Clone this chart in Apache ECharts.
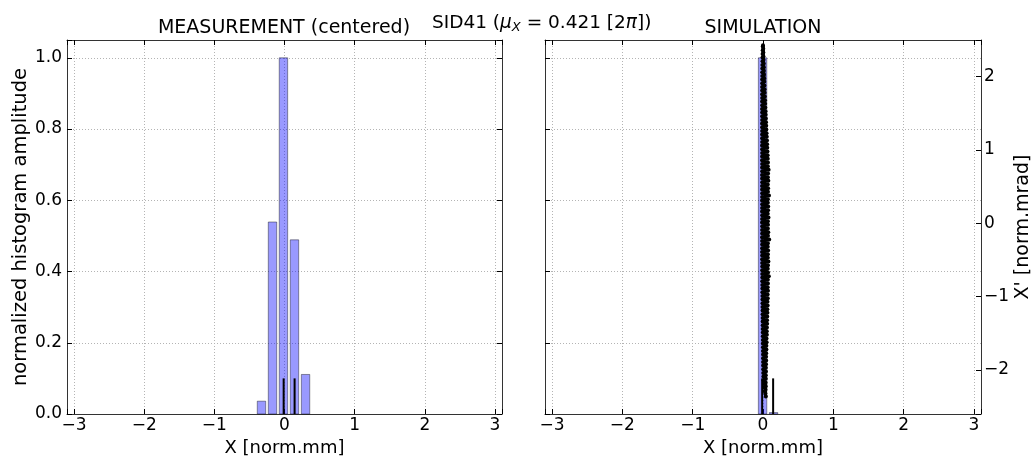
<!DOCTYPE html>
<html>
<head>
<meta charset="utf-8">
<script src="https://cdn.jsdelivr.net/npm/echarts@6/dist/echarts.min.js"></script>
<style>
  html, body { margin: 0; padding: 0; background: #fff; }
  #chart { width: 1032px; height: 459px; }
</style>
</head>
<body>
<div id="chart"></div>
<script>
// Measured beam profile: histogram bin centres [norm.mm] and normalised amplitudes
const measBinCenters = [-0.328, -0.171, -0.015, 0.142, 0.300];
const measBinHeights = [0.036, 0.539, 1.0, 0.489, 0.111];

// Simulated beam profile histogram
const simBinCenters = [-0.006, 0.150];
const simBinHeights = [1.0, 0.004];

// Reference markers drawn in both panels (position, height on the histogram scale)
const markerPositions = [-0.012, 0.144];
const markerHeights = [0.1, 0.1];

// Simulated phase space: X [norm.mm] and X' [norm.mrad], top to bottom
const simX = [
  0.000, -0.003, 0.004, -0.004, 0.005, -0.006, 0.006, -0.007, 0.008, -0.007,
  0.010, -0.009, 0.011, -0.010, 0.012, -0.011, 0.014, -0.011, 0.016, -0.012,
  0.018, -0.012, 0.020, -0.013, 0.022, -0.012, 0.024, -0.013, 0.026, -0.012,
  0.029, -0.013, 0.031, -0.012, 0.033, -0.014, 0.036, -0.012, 0.038, -0.013,
  0.041, -0.012, 0.043, -0.014, 0.046, -0.013, 0.048, -0.012, 0.051, -0.013,
  0.054, -0.013, 0.057, -0.012, 0.059, -0.014, 0.061, -0.013, 0.064, -0.012,
  0.066, -0.013, 0.068, -0.014, 0.071, -0.012, 0.069, -0.013, 0.080, -0.012,
  0.072, -0.014, 0.070, -0.013, 0.076, -0.012, 0.068, -0.014, 0.073, -0.013,
  0.071, -0.012, 0.085, -0.013, 0.070, -0.014, 0.069, -0.012, 0.074, -0.013,
  0.072, -0.014, 0.068, -0.012, 0.078, -0.013, 0.070, -0.014, 0.071, -0.012,
  0.069, -0.013, 0.075, -0.012, 0.071, -0.014, 0.088, -0.013, 0.070, -0.012,
  0.068, -0.013, 0.073, -0.014, 0.070, -0.012, 0.069, -0.013, 0.077, -0.012,
  0.071, -0.011, 0.068, -0.012, 0.072, -0.011, 0.083, -0.010, 0.069, -0.011,
  0.070, -0.010, 0.067, -0.009, 0.071, -0.009, 0.066, -0.008, 0.068, -0.008,
  0.064, -0.007, 0.066, -0.007, 0.062, -0.006, 0.063, -0.006, 0.060, -0.005,
  0.058, -0.005, 0.059, -0.004, 0.056, -0.004, 0.054, -0.003, 0.055, -0.003,
  0.050, -0.002, 0.052, -0.002, 0.048, -0.001, 0.049, -0.001, 0.046, 0.000,
  0.044, 0.000, 0.045, 0.001, 0.043, 0.001, 0.041, 0.002, 0.042, 0.003,
  0.039, 0.005, 0.040, 0.008, 0.037, 0.012, 0.038, 0.017, 0.036, 0.024,
  0.034, 0.040
];
const simXp = [
  2.43, 2.41, 2.38, 2.36, 2.33, 2.31, 2.28, 2.26, 2.23, 2.21,
  2.18, 2.16, 2.13, 2.11, 2.08, 2.06, 2.03, 2.01, 1.98, 1.96,
  1.93, 1.91, 1.88, 1.86, 1.83, 1.81, 1.78, 1.76, 1.73, 1.71,
  1.68, 1.66, 1.63, 1.61, 1.58, 1.56, 1.53, 1.51, 1.48, 1.46,
  1.43, 1.41, 1.38, 1.36, 1.33, 1.31, 1.28, 1.26, 1.23, 1.21,
  1.18, 1.16, 1.13, 1.11, 1.08, 1.06, 1.03, 1.01, 0.98, 0.96,
  0.93, 0.91, 0.88, 0.86, 0.83, 0.81, 0.78, 0.76, 0.73, 0.71,
  0.68, 0.66, 0.63, 0.61, 0.58, 0.56, 0.53, 0.51, 0.48, 0.46,
  0.43, 0.41, 0.38, 0.36, 0.33, 0.31, 0.28, 0.26, 0.23, 0.21,
  0.18, 0.16, 0.13, 0.11, 0.08, 0.06, 0.03, 0.01, -0.02, -0.04,
  -0.07, -0.09, -0.12, -0.14, -0.17, -0.19, -0.22, -0.24, -0.27, -0.29,
  -0.32, -0.34, -0.37, -0.39, -0.42, -0.44, -0.47, -0.49, -0.52, -0.54,
  -0.57, -0.59, -0.62, -0.64, -0.67, -0.69, -0.72, -0.74, -0.77, -0.79,
  -0.82, -0.84, -0.87, -0.89, -0.92, -0.94, -0.97, -0.99, -1.02, -1.04,
  -1.07, -1.09, -1.12, -1.14, -1.17, -1.19, -1.22, -1.24, -1.27, -1.29,
  -1.32, -1.34, -1.37, -1.39, -1.42, -1.44, -1.47, -1.49, -1.52, -1.54,
  -1.57, -1.59, -1.62, -1.64, -1.67, -1.69, -1.72, -1.74, -1.77, -1.79,
  -1.82, -1.84, -1.87, -1.89, -1.92, -1.94, -1.97, -1.99, -2.02, -2.04,
  -2.07, -2.09, -2.12, -2.14, -2.17, -2.19, -2.22, -2.24, -2.27, -2.29,
  -2.32, -2.36
];

// Tick labels
const xTicks = [-3, -2, -1, 0, 1, 2, 3];
const histTicks = [0, 0.2, 0.4, 0.6, 0.8, 1.0];
const xpTicks = [-2, -1, 0, 1, 2];

const BIN_WIDTH = 0.12;
const FONT = 'DejaVu Sans';

const minus = s => String(s).replace('-', '\u2212');
const hasTick = (list, v) => list.some(t => Math.abs(t - v) < 1e-6);
const fmtX = v => hasTick(xTicks, v) ? minus(Math.round(v)) : '';
const fmtHist = v => hasTick(histTicks, v) ? v.toFixed(1) : '';
const fmtXp = v => hasTick(xpTicks, v) ? minus(Math.round(v)) : '';

const spine = { show: true, onZero: false, lineStyle: { color: '#333', width: 1 } };
const gridLine = { show: true, lineStyle: { color: '#b4b4b4', width: 1, type: [1, 2] } };
const tickIn = { show: true, inside: true, length: 5, lineStyle: { color: '#000', width: 1 } };
const labelStyle = { color: '#000', fontFamily: FONT, fontSize: 17 };

function xAxisPair(gridIndex) {
  return [
    {
      type: 'value', gridIndex, position: 'bottom', min: -3.1, max: 3.1, splitNumber: 6,
      axisLine: spine, axisTick: tickIn, splitLine: gridLine,
      axisLabel: Object.assign({ formatter: fmtX, margin: 3 }, labelStyle),
      name: 'X [norm.mm]', nameLocation: 'middle', nameGap: 15,
      nameTextStyle: { color: '#000', fontFamily: FONT, fontSize: 18 }
    },
    {
      type: 'value', gridIndex, position: 'top', min: -3.1, max: 3.1, splitNumber: 6,
      axisLine: spine, axisTick: tickIn, splitLine: { show: false }, axisLabel: { show: false }
    }
  ];
}

const histAxisBase = {
  type: 'value', min: 0, max: 1.05, splitNumber: 5,
  axisLine: spine, axisTick: tickIn
};

const chart = echarts.init(document.getElementById('chart'), null, { renderer: 'canvas' });

function renderBar(params, api) {
  const c = api.value(0), h = api.value(1);
  const p0 = api.coord([c - BIN_WIDTH / 2, 0]);
  const p1 = api.coord([c + BIN_WIDTH / 2, h]);
  return {
    type: 'rect',
    shape: { x: p0[0], y: p1[1], width: p1[0] - p0[0], height: p0[1] - p1[1] },
    style: { fill: 'rgba(0,0,255,0.4)', stroke: 'rgba(0,0,0,0.4)', lineWidth: 1 }
  };
}

function renderMarker(params, api) {
  const x = api.value(0), h = api.value(1);
  const a = api.coord([x, 0]);
  const b = api.coord([x, h]);
  return {
    type: 'line',
    shape: { x1: a[0], y1: a[1], x2: b[0], y2: b[1] },
    style: { stroke: '#000', lineWidth: 2 }
  };
}

const zip = (a, b) => a.map((v, i) => [v, b[i]]);

chart.setOption({
  animation: false,
  backgroundColor: '#fff',
  grid: [
    { left: 67, right: 530, top: 40, bottom: 45, outerBoundsMode: 'none', containLabel: false },
    { left: 545, right: 51, top: 40, bottom: 45, outerBoundsMode: 'none', containLabel: false }
  ],
  xAxis: [...xAxisPair(0), ...xAxisPair(1)],
  yAxis: [
    Object.assign({}, histAxisBase, {
      gridIndex: 0, position: 'left', splitLine: gridLine,
      axisLabel: Object.assign({ formatter: fmtHist, margin: 5 }, labelStyle),
      name: 'normalized histogram amplitude', nameLocation: 'middle', nameGap: 36,
      nameTextStyle: { color: '#000', fontFamily: FONT, fontSize: 19.5 }
    }),
    Object.assign({}, histAxisBase, {
      gridIndex: 0, position: 'right', splitLine: { show: false }, axisLabel: { show: false }
    }),
    Object.assign({}, histAxisBase, {
      gridIndex: 1, position: 'left', splitLine: gridLine, axisLabel: { show: false }
    }),
    {
      type: 'value', gridIndex: 1, position: 'right', min: -2.6, max: 2.5, splitNumber: 5,
      axisLine: spine, axisTick: tickIn, splitLine: { show: false },
      axisLabel: Object.assign({ formatter: fmtXp, margin: 3 }, labelStyle),
      name: "X' [norm.mrad]", nameLocation: 'middle', nameGap: 33,
      nameTextStyle: { color: '#000', fontFamily: FONT, fontSize: 19 }
    }
  ],
  series: [
    {
      type: 'custom', xAxisIndex: 0, yAxisIndex: 0, renderItem: renderBar,
      data: zip(measBinCenters, measBinHeights), encode: { x: 0, y: 1 }, z: 2
    },
    {
      type: 'custom', xAxisIndex: 0, yAxisIndex: 0, renderItem: renderMarker,
      data: zip(markerPositions, markerHeights), encode: { x: 0, y: 1 }, z: 3
    },
    {
      type: 'custom', xAxisIndex: 2, yAxisIndex: 2, renderItem: renderBar,
      data: zip(simBinCenters, simBinHeights), encode: { x: 0, y: 1 }, z: 2
    },
    {
      type: 'line', xAxisIndex: 2, yAxisIndex: 3, data: zip(simX, simXp),
      symbol: 'circle', symbolSize: 4, showSymbol: true, showAllSymbol: true,
      itemStyle: { color: '#000' }, lineStyle: { color: '#000', width: 3 },
      z: 3, silent: true
    },
    {
      type: 'custom', xAxisIndex: 2, yAxisIndex: 2, renderItem: renderMarker,
      data: zip(markerPositions, markerHeights), encode: { x: 0, y: 1 }, z: 4
    }
  ],
  graphic: [
    {
      type: 'text', x: 284, y: 19,
      style: { text: 'MEASUREMENT (centered)', fill: '#000', font: '19px "DejaVu Sans"', textAlign: 'center', textVerticalAlign: 'top' }
    },
    {
      type: 'text', x: 763, y: 19,
      style: { text: 'SIMULATION', fill: '#000', font: '19px "DejaVu Sans"', textAlign: 'center', textVerticalAlign: 'top' }
    },
    {
      type: 'text', x: 432, y: 13,
      style: {
        text: 'SID41 ({i|\u03bc}{sub|X} = 0.421 [2{i|\u03c0}])',
        fill: '#000', font: '18.5px "DejaVu Sans"', textAlign: 'left', textVerticalAlign: 'top',
        rich: {
          i: { fontFamily: FONT, fontSize: 18.5, fontStyle: 'italic', fill: '#000' },
          sub: { fontFamily: FONT, fontSize: 13, fontStyle: 'italic', fill: '#000', padding: [8, 0, 0, 0] }
        }
      }
    }
  ]
});
</script>
</body>
</html>
